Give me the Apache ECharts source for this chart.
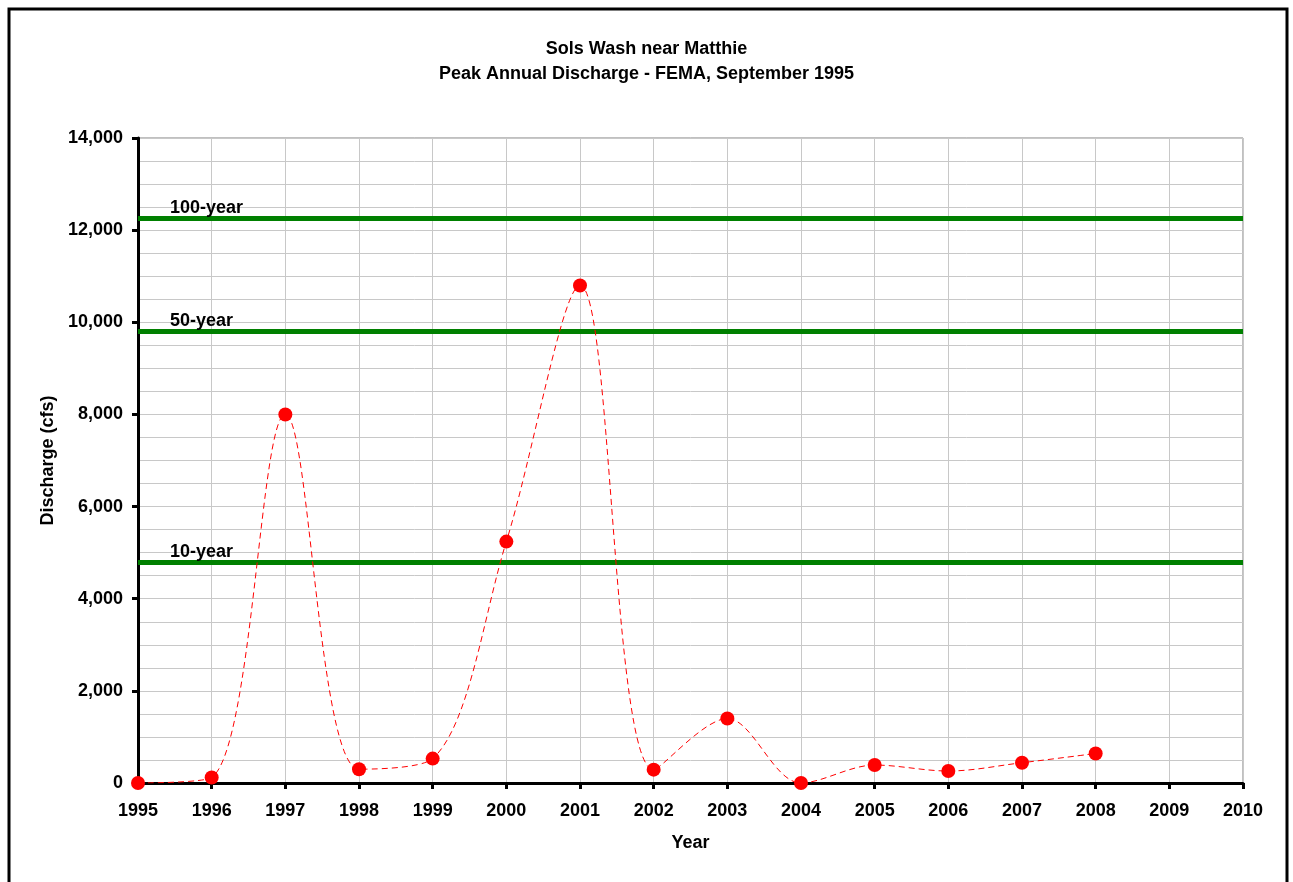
<!DOCTYPE html>
<html>
<head>
<meta charset="utf-8">
<script src="https://cdn.jsdelivr.net/npm/echarts@6/dist/echarts.min.js"></script>
<style>
  html, body { margin: 0; padding: 0; background: #fff; }
  #chart { width: 1293px; height: 882px; }
</style>
</head>
<body>
<div id="chart"></div>
<script>
// peak annual discharge
var years = [1995, 1996, 1997, 1998, 1999, 2000, 2001, 2002, 2003, 2004, 2005, 2006, 2007, 2008];
var discharge = [0, 120, 8000, 300, 530, 5240, 10800, 290, 1400, 0, 390, 260, 440, 640];

// FEMA flood levels
var floodNames = ['100-year', '50-year', '10-year'];
var floodValues = [12260, 9800, 4790];

var font = '"Liberation Sans", Arial, sans-serif';
var fs = 18;

var chart = echarts.init(document.getElementById('chart'));

var points = years.map(function (y, i) { return [y, discharge[i]]; });

var floodLines = floodNames.map(function (n, i) {
  return { name: n, yAxis: floodValues[i] };
});

var option = {
  animation: false,
  backgroundColor: '#fff',
  textStyle: { fontFamily: font },
  title: {
    text: 'Sols Wash near Matthie\nPeak Annual Discharge - FEMA, September 1995',
    left: 'center',
    top: 32,
    textStyle: { fontFamily: font, fontSize: fs, fontWeight: 'bold', color: '#000', lineHeight: 25 }
  },
  graphic: [{
    type: 'rect',
    shape: { x: 9, y: 9, width: 1278, height: 890 },
    style: { fill: 'none', stroke: '#000', lineWidth: 3 },
    silent: true
  }],
  grid: {
    left: 138, right: 50, top: 138, bottom: 99,
    show: true, borderColor: '#808080', borderWidth: 1
  },
  xAxis: {
    type: 'value',
    min: 1995, max: 2010, interval: 1,
    name: 'Year', nameLocation: 'middle', nameGap: 51,
    nameTextStyle: { fontFamily: font, fontSize: fs, fontWeight: 'bold', color: '#000' },
    axisLine: { lineStyle: { color: '#000', width: 3 } },
    axisTick: { show: true, length: 6, lineStyle: { color: '#000', width: 3 } },
    axisLabel: {
      fontFamily: font, fontSize: fs, fontWeight: 'bold', color: '#000', margin: 19,
      formatter: function (v) { return String(v); }
    },
    splitLine: { show: true, lineStyle: { color: '#c8c8c8', width: 1 } }
  },
  yAxis: {
    type: 'value',
    min: 0, max: 14000, interval: 2000,
    name: 'Discharge (cfs)', nameLocation: 'middle', nameGap: 81, nameRotate: 90,
    nameTextStyle: { fontFamily: font, fontSize: fs, fontWeight: 'bold', color: '#000' },
    axisLine: { show: true, lineStyle: { color: '#000', width: 3 } },
    axisTick: { show: true, length: 6, lineStyle: { color: '#000', width: 3 } },
    axisLabel: {
      fontFamily: font, fontSize: fs, fontWeight: 'bold', color: '#000', margin: 15,
      formatter: function (v) { return v.toLocaleString('en-US'); }
    },
    splitLine: { show: true, lineStyle: { color: '#c8c8c8', width: 1 } },
    minorSplitLine: { show: true, lineStyle: { color: '#c8c8c8', width: 1 } },
    minorTick: { show: false, splitNumber: 4 }
  },
  series: [{
    type: 'line',
    data: points,
    smooth: 0.33,
    symbol: 'circle',
    symbolSize: 14,
    itemStyle: { color: '#ff0000' },
    lineStyle: { color: '#ff0000', width: 1, type: [6, 4] },
    z: 5,
    markLine: {
      silent: true,
      symbol: 'none',
      lineStyle: { color: '#008000', width: 5, type: 'solid' },
      label: {
        show: true,
        position: 'insideStartTop',
        distance: [32, 1],
        formatter: '{b}',
        fontFamily: font, fontSize: fs, fontWeight: 'bold', color: '#000'
      },
      data: floodLines
    }
  }]
};

chart.setOption(option);
</script>
</body>
</html>
